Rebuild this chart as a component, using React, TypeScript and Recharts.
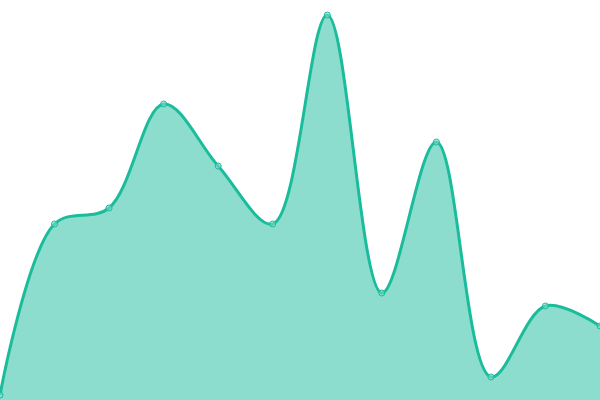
import { AreaChart, Area, XAxis, YAxis } from "recharts";

const categories = ["1", "2", "3", "4", "5", "6", "7", "8", "9", "10", "11", "12"];
const values = [5, 176, 192, 296, 234, 176, 385, 107, 258, 23, 94, 74];

const data = categories.map((name, i) => ({ name, value: values[i] }));

// centripetal Catmull-Rom spline, same shape as d3's curveCatmullRom
class CatmullRom {
  _context: any;
  _alpha: number;
  _line = NaN;
  _point = 0;
  _x0 = NaN; _x1 = NaN; _x2 = NaN;
  _y0 = NaN; _y1 = NaN; _y2 = NaN;
  _l01_a = 0; _l12_a = 0; _l23_a = 0;
  _l01_2a = 0; _l12_2a = 0; _l23_2a = 0;
  constructor(context: any, alpha: number) {
    this._context = context;
    this._alpha = alpha;
  }
  areaStart() { this._line = 0; }
  areaEnd() { this._line = NaN; }
  lineStart() {
    this._x0 = this._x1 = this._x2 = this._y0 = this._y1 = this._y2 = NaN;
    this._l01_a = this._l12_a = this._l23_a = this._l01_2a = this._l12_2a = this._l23_2a = 0;
    this._point = 0;
  }
  lineEnd() {
    switch (this._point) {
      case 2: this._context.lineTo(this._x2, this._y2); break;
      case 3: this.point(this._x2, this._y2); break;
    }
    if (this._line || (this._line !== 0 && this._point === 1)) this._context.closePath();
    this._line = 1 - this._line;
  }
  seg(x: number, y: number) {
    let x1 = this._x1, y1 = this._y1, x2 = this._x2, y2 = this._y2;
    if (this._l01_a > 1e-12) {
      const a = 2 * this._l01_2a + 3 * this._l01_a * this._l12_a + this._l12_2a;
      const n = 3 * this._l01_a * (this._l01_a + this._l12_a);
      x1 = (x1 * a - this._x0 * this._l12_2a + this._x2 * this._l01_2a) / n;
      y1 = (y1 * a - this._y0 * this._l12_2a + this._y2 * this._l01_2a) / n;
    }
    if (this._l23_a > 1e-12) {
      const b = 2 * this._l23_2a + 3 * this._l23_a * this._l12_a + this._l12_2a;
      const m = 3 * this._l23_a * (this._l23_a + this._l12_a);
      x2 = (x2 * b + this._x1 * this._l23_2a - x * this._l12_2a) / m;
      y2 = (y2 * b + this._y1 * this._l23_2a - y * this._l12_2a) / m;
    }
    this._context.bezierCurveTo(x1, y1, x2, y2, this._x2, this._y2);
  }
  point(x: number, y: number) {
    x = +x; y = +y;
    if (this._point) {
      const x23 = this._x2 - x, y23 = this._y2 - y;
      this._l23_2a = Math.pow(x23 * x23 + y23 * y23, this._alpha);
      this._l23_a = Math.sqrt(this._l23_2a);
    }
    switch (this._point) {
      case 0: this._point = 1; this._line ? this._context.lineTo(x, y) : this._context.moveTo(x, y); break;
      case 1: this._point = 2; break;
      case 2: this._point = 3; this.seg(x, y); break;
      default: this.seg(x, y); break;
    }
    this._l01_a = this._l12_a; this._l12_a = this._l23_a;
    this._l01_2a = this._l12_2a; this._l12_2a = this._l23_2a;
    this._x0 = this._x1; this._x1 = this._x2; this._x2 = x;
    this._y0 = this._y1; this._y1 = this._y2; this._y2 = y;
  }
}

const catmullRom = (context: any) => new CatmullRom(context, 0.5);

export default function App() {
  return (
    <div style={{ position: "absolute", left: 0, top: 0 }}>
      <AreaChart width={600} height={400} data={data} margin={{ top: 0, right: 0, bottom: 0, left: 0 }}>
        <XAxis dataKey="name" hide />
        <YAxis hide domain={[0, 400]} />
        <Area
          type={catmullRom as any}
          dataKey="value"
          stroke="#1abc9c"
          strokeWidth={3}
          fill="#1abc9c"
          fillOpacity={0.5}
          dot={{ r: 3, fill: "#8ae0d0", stroke: "#1abc9c", strokeWidth: 1 }}
          activeDot={false}
          isAnimationActive={false}
        />
      </AreaChart>
    </div>
  );
}
